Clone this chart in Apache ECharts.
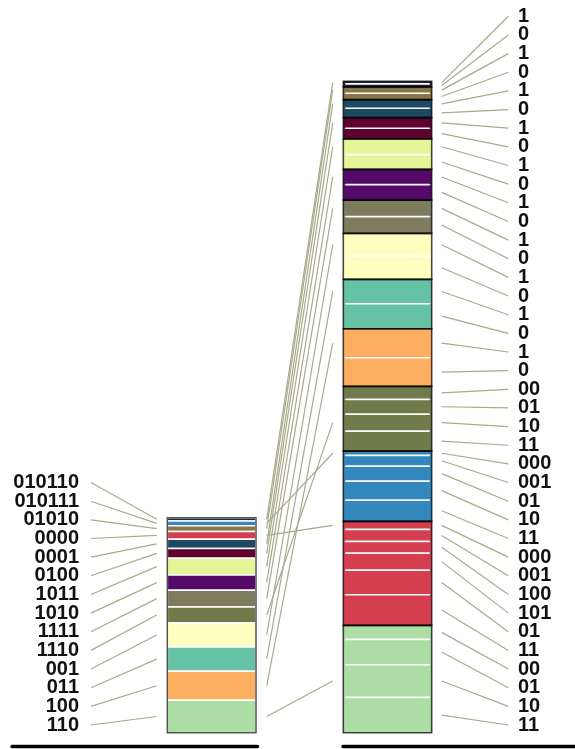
<!DOCTYPE html>
<html>
<head>
<meta charset="utf-8">
<script src="https://cdn.jsdelivr.net/npm/echarts@6/dist/echarts.min.js"></script>
<style>
  html, body { margin: 0; padding: 0; background: #fff; }
  #main { width: 575px; height: 749px; }
</style>
</head>
<body>
<div id="main"></div>
<script>
// left column, top to bottom: code words and their weights
const leftCodes = ['010110', '010111', '01010', '0000', '0001', '0100', '1011', '1010', '1111', '1110', '001', '011', '100', '110'];
const leftWeights = [3.3, 4.7, 5.8, 7.8, 9.2, 9.8, 16.7, 15.3, 16.7, 16.0, 24.0, 24.3, 29.0, 32.4];

// right column, top to bottom: which left symbol each group belongs to
const rightGroups = [0, 2, 4, 5, 6, 7, 8, 10, 11, 12, 9, 1, 3, 13];
const rightBits = [
  ['1', '0'], ['1', '0'], ['1', '0'], ['1', '0'], ['1', '0'],
  ['1', '0'], ['1', '0'], ['1', '0'], ['1', '0'], ['1', '0'],
  ['00', '01', '10', '11'],
  ['000', '001', '01', '10', '11'],
  ['000', '001', '100', '101', '01', '11'],
  ['00', '01', '10', '11']
];
const rightWeights = [
  [2.6, 3.0], [6.4, 6.3], [8.7, 9.3], [10.7, 10.6], [15.7, 14.8],
  [15.2, 15.5], [16.5, 16.8], [22.7, 23.3], [24.3, 25.0], [29.0, 28.7],
  [13.0, 14.7, 17.0, 20.0],
  [4.3, 10.7, 15.0, 19.0, 21.3],
  [8.0, 12.0, 11.7, 17.0, 24.6, 30.7],
  [14.0, 25.3, 32.7, 35.3]
];
// piece of its right group that each left code is linked to
const linkPiece = [0, 0, 0, 0, 0, 0, 0, 0, 0, 2, 0, 0, 0, 2];

// colours, indexed like leftCodes
const palette = ['#25203f', '#3288bd', '#8a7646', '#d53e4f', '#1c4a63', '#5e0030', '#e6f598',
                 '#550a6a', '#7e7c5e', '#717a4b', '#ffffbf', '#66c2a5', '#fdae61', '#abdda4'];

// layout (x in axis units)
const LEFT_BAR = [167.3, 256];
const RIGHT_BAR = [343.3, 431.7];
const LEFT_TEXT = 79, LEFT_LEAD = [91, 156.7];
const RIGHT_TEXT = 518, RIGHT_LEAD = [441.7, 508.3];
const LINK_X = [266.7, 332.7];
const LABEL_BASE = 7.7, LABEL_STEP = 18.65;
const lineColor = '#a9a98b';
const fontFamily = '"Liberation Sans", Arial, sans-serif';

// stack the left column
const leftStack = [];
let acc = 0;
for (let i = leftCodes.length - 1; i >= 0; i--) {
  leftStack[i] = [acc, acc + leftWeights[i]];
  acc += leftWeights[i];
}

// flatten and stack the right column
const pieces = [];
rightGroups.forEach((sym, g) => {
  rightWeights[g].forEach((w, p) => pieces.push({ g: g, p: p, sym: sym, bits: rightBits[g][p], w: w }));
});
acc = 0;
for (let j = pieces.length - 1; j >= 0; j--) {
  pieces[j].y0 = acc;
  pieces[j].y1 = acc + pieces[j].w;
  acc += pieces[j].w;
}
const groupSpan = rightGroups.map((sym, g) => {
  const ps = pieces.filter(q => q.g === g);
  return [ps[ps.length - 1].y0, ps[0].y1];
});

const mid = s => (s[0] + s[1]) / 2;
const labelY = k => LABEL_BASE + k * LABEL_STEP;

function linkTarget(i) {
  const g = rightGroups.indexOf(i);
  const q = pieces.find(x => x.g === g && x.p === linkPiece[i]);
  return (q.y0 + q.y1) / 2;
}

function rect(api, x, y0, y1) {
  const a = api.coord([x[0], y1]);
  const b = api.coord([x[1], y0]);
  return { x: a[0], y: a[1], width: b[0] - a[0], height: b[1] - a[1] };
}

function seg(api, xa, ya, xb, yb) {
  const a = api.coord([xa, ya]);
  const b = api.coord([xb, yb]);
  return { x1: a[0], y1: a[1], x2: b[0], y2: b[1] };
}

const textStyle = (text, p, align) => ({
  text: text, x: p[0], y: p[1], align: align, verticalAlign: 'middle',
  fill: '#111', fontSize: 20, fontWeight: 'bold', fontFamily: fontFamily
});

const chart = echarts.init(document.getElementById('main'));

const hiddenAxis = (min, max, grid) => ({
  type: 'value', min: min, max: max, gridIndex: grid, show: false
});
const baseAxis = grid => ({
  type: 'value', min: 0, max: 1, gridIndex: grid,
  axisLine: { show: true, onZero: false, lineStyle: { color: '#000', width: 3.3 } },
  axisTick: { show: false }, axisLabel: { show: false }, splitLine: { show: false }
});

chart.setOption({
  animation: false,
  grid: [
    { left: 0, right: 0, top: 0, bottom: 0 },
    { left: 12, width: 245.5, top: 0, bottom: 2.3 },
    { left: 343, right: 0, top: 0, bottom: 2.3 }
  ],
  xAxis: [hiddenAxis(0, 575, 0), baseAxis(1), baseAxis(2)],
  yAxis: [hiddenAxis(-16.3, 732.7, 0), hiddenAxis(0, 1, 1), hiddenAxis(0, 1, 2)],
  series: [
    {
      // links between the two columns
      type: 'custom', silent: true,
      data: leftCodes.map((c, i) => [mid(leftStack[i]), linkTarget(i)]),
      renderItem: (params, api) => ({
        type: 'line',
        shape: seg(api, LINK_X[0], api.value(0), LINK_X[1], api.value(1)),
        style: { stroke: lineColor, lineWidth: 1.2 }
      })
    },
    {
      // left labels and leader lines
      type: 'custom', silent: true,
      data: leftCodes.map((c, i) => [mid(leftStack[i]), labelY(leftCodes.length - 1 - i), i]),
      renderItem: (params, api) => ({
        type: 'group',
        children: [
          { type: 'line', shape: seg(api, LEFT_LEAD[0], api.value(1), LEFT_LEAD[1], api.value(0)),
            style: { stroke: lineColor, lineWidth: 1.2 } },
          { type: 'text', style: textStyle(leftCodes[api.value(2)], api.coord([LEFT_TEXT, api.value(1)]), 'right') }
        ]
      })
    },
    {
      // left bar segments
      type: 'custom', silent: true,
      data: leftCodes.map((c, i) => [leftStack[i][0], leftStack[i][1], i]),
      renderItem: (params, api) => ({
        type: 'rect',
        shape: rect(api, LEFT_BAR, api.value(0), api.value(1)),
        style: { fill: palette[api.value(2)], stroke: '#fff', lineWidth: 1.6 }
      })
    },
    {
      // left bar outline
      type: 'custom', silent: true,
      data: [[0, leftStack[0][1]]],
      renderItem: (params, api) => ({
        type: 'rect',
        shape: rect(api, LEFT_BAR, api.value(0), api.value(1)),
        style: { fill: 'none', stroke: '#555', lineWidth: 1.5 }
      })
    },
    {
      // right labels and leader lines
      type: 'custom', silent: true,
      data: pieces.map((q, j) => [(q.y0 + q.y1) / 2, labelY(pieces.length - 1 - j), j]),
      renderItem: (params, api) => ({
        type: 'group',
        children: [
          { type: 'line', shape: seg(api, RIGHT_LEAD[0], api.value(0), RIGHT_LEAD[1], api.value(1)),
            style: { stroke: lineColor, lineWidth: 1.2 } },
          { type: 'text', style: textStyle(pieces[api.value(2)].bits, api.coord([RIGHT_TEXT, api.value(1)]), 'left') }
        ]
      })
    },
    {
      // right bar pieces with white separators
      type: 'custom', silent: true,
      data: pieces.map((q, j) => [q.y0, q.y1, q.sym, q.p]),
      renderItem: (params, api) => {
        const children = [{
          type: 'rect',
          shape: rect(api, RIGHT_BAR, api.value(0), api.value(1)),
          style: { fill: palette[api.value(2)] }
        }];
        if (api.value(3) > 0) {
          children.push({
            type: 'line',
            shape: seg(api, RIGHT_BAR[0] + 2, api.value(1), RIGHT_BAR[1] - 2, api.value(1)),
            style: { stroke: '#fff', lineWidth: 1.6 }
          });
        }
        return { type: 'group', children: children };
      }
    },
    {
      // right group outlines
      type: 'custom', silent: true,
      data: groupSpan.map(s => [s[0], s[1]]),
      renderItem: (params, api) => ({
        type: 'rect',
        shape: rect(api, RIGHT_BAR, api.value(0), api.value(1)),
        style: { fill: 'none', stroke: 'rgba(0,0,0,0.72)', lineWidth: 1.6 }
      })
    }
  ]
});
</script>
</body>
</html>
